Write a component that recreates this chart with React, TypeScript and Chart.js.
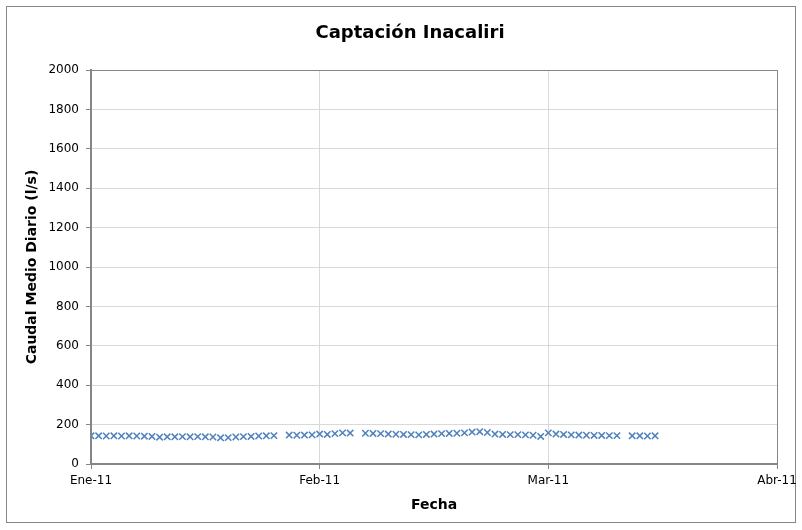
import React, { useEffect, useRef } from "react";
import { Chart, registerables } from "chart.js";

Chart.register(...registerables);

const TITLE = "Captación Inacaliri";
const X_TITLE = "Fecha";
const Y_TITLE = "Caudal Medio Diario (l/s)";

// x ticks (days from 1 Jan 2011) and labels
const xTickDays = [0, 30, 60, 90];
const xTickLabels = ["Ene-11", "Feb-11", "Mar-11", "Abr-11"];

// daily index (day 0 = Ene-11)
const days: number[] = [
  0, 1, 2, 3, 4, 5, 6, 7, 8, 9, 10, 11, 12, 13, 14, 15, 16, 17, 18, 19, 20, 21, 22, 23, 24, 25,
  26, 27, 28, 29, 30, 31, 32, 33, 34, 35, 36, 37, 38, 39, 40, 41, 42, 43, 44, 45, 46, 47, 48, 49,
  50, 51, 52, 53, 54, 55, 56, 57, 58, 59, 60, 61, 62, 63, 64, 65, 66, 67, 68, 69, 70, 71, 72, 73, 74,
];

// caudal (l/s); null = missing day
const caudal: (number | null)[] = [
  143, 143, 142, 143, 142, 143, 142, 141, 140, 136, 138, 138, 139, 138, 139, 138, 137, 133, 134,
  137, 139, 140, 142, 143, 144, null,
  147, 146, 147, 148, 152, 150, 154, 158, 157, null,
  156, 155, 154, 152, 151, 150, 149, 148, 150, 152, 154, 155, 156, 158, 162, 164, 160,
  152, 150, 149, 149, 148, 146, 140, 158, 152, 150, 148, 147, 146, 145, 145, 144, 144, null,
  143, 143, 142, 143,
];

const FONT = "'DejaVu Sans', Verdana, sans-serif";

export default function App() {
  const ref = useRef<HTMLCanvasElement | null>(null);

  useEffect(() => {
    document.body.style.margin = "0";
    const canvas = ref.current;
    if (!canvas) return;

    const frame = {
      id: "frame",
      beforeDraw(chart: any) {
        const ctx = chart.ctx;
        ctx.save();
        ctx.fillStyle = "#ffffff";
        ctx.fillRect(0, 0, chart.width, chart.height);
        ctx.strokeStyle = "#868686";
        ctx.lineWidth = 1;
        ctx.strokeRect(6.5, 6.5, 789, 516);
        ctx.fillStyle = "#000";
        ctx.font = `bold 18px ${FONT}`;
        ctx.textAlign = "center";
        ctx.textBaseline = "middle";
        ctx.fillText(TITLE, 410, 33);
        ctx.restore();
      },
      beforeDatasetsDraw(chart: any) {
        const a = chart.chartArea;
        const ctx = chart.ctx;
        ctx.save();
        ctx.strokeStyle = "#868686";
        ctx.lineWidth = 1;
        ctx.strokeRect(a.left + 0.5, a.top + 0.5, a.right - a.left, a.bottom - a.top);
        ctx.restore();
      },
    };

    const points = days.map((d, i) => ({ x: d, y: caudal[i] }));

    const chart = new Chart(canvas, {
      type: "scatter",
      data: {
        datasets: [
          {
            data: points as any,
            pointStyle: "crossRot",
            pointRadius: 4.5,
            pointBorderWidth: 1.5,
            borderColor: "#4F81BD",
            backgroundColor: "#4F81BD",
            showLine: false,
          },
        ],
      },
      options: {
        responsive: false,
        animation: false,
        layout: { padding: { left: 0, right: 25, top: 70, bottom: 0 } },
        plugins: {
          legend: { display: false },
          tooltip: { enabled: false },
          title: { display: false },
        },
        scales: {
          x: {
            type: "linear",
            min: 0,
            max: 90,
            afterFit(scale: any) {
              scale.height = 66;
            },
            afterBuildTicks(scale: any) {
              scale.ticks = xTickDays.map((v) => ({ value: v }));
            },
            ticks: {
              autoSkip: false,
              maxRotation: 0,
              padding: 5,
              color: "#000",
              font: { family: FONT, size: 12 },
              callback: (v: any) => {
                const i = xTickDays.indexOf(Number(v));
                return i >= 0 ? xTickLabels[i] : "";
              },
            },
            grid: {
              color: "#D9D9D9",
              tickColor: "#868686",
              tickLength: 5,
              drawTicks: true,
            },
            border: { color: "#868686", width: 2 },
            title: {
              display: true,
              text: X_TITLE,
              color: "#000",
              font: { family: FONT, size: 14, weight: "bold" },
              padding: { top: 4, bottom: 16 },
            },
          },
          y: {
            min: 0,
            max: 2000,
            afterFit(scale: any) {
              scale.width = 91;
            },
            ticks: {
              stepSize: 200,
              padding: 7,
              color: "#000",
              font: { family: FONT, size: 12 },
              callback: (v: any) => String(v),
            },
            grid: {
              color: "#D9D9D9",
              tickColor: "#868686",
              tickLength: 5,
            },
            border: { color: "#868686", width: 2 },
            title: {
              display: true,
              text: Y_TITLE,
              color: "#000",
              font: { family: FONT, size: 14, weight: "bold" },
              padding: { top: 24, bottom: 4 },
            },
          },
        },
      } as any,
      plugins: [frame],
    });

    return () => chart.destroy();
  }, []);

  return (
    <div style={{ width: 802, height: 530 }}>
      <canvas ref={ref} width={802} height={530} style={{ display: "block" }} />
    </div>
  );
}
